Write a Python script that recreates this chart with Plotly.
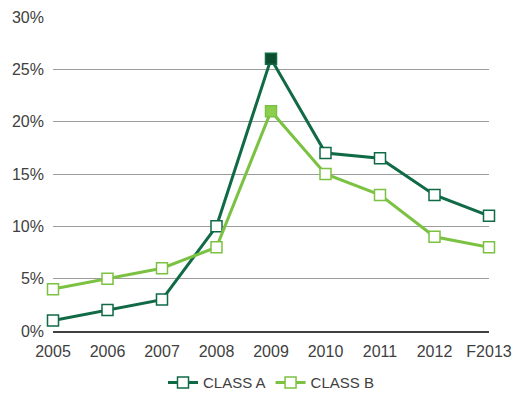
import plotly.graph_objects as go

years = ["2005", "2006", "2007", "2008", "2009", "2010", "2011", "2012", "F2013"]
class_a = [1, 2, 3, 10, 26, 17, 16.5, 13, 11]
class_b = [4, 5, 6, 8, 21, 15, 13, 9, 8]
y_ticks = [0, 5, 10, 15, 20, 25, 30]
y_labels = ["0%", "5%", "10%", "15%", "20%", "25%", "30%"]

dark = "#0f6a45"
light = "#7cc242"
a_fill = ["white"] * len(years)
b_fill = ["white"] * len(years)
a_fill[4] = "#0b4d2e"
b_fill[4] = "#8ccf4c"

fig = go.Figure()
fig.add_trace(go.Scatter(
    x=years, y=class_a, name="CLASS A", mode="lines+markers",
    line=dict(color=dark, width=3),
    marker=dict(symbol="square", size=11, color=a_fill, line=dict(color=dark, width=1.5)),
    cliponaxis=False,
))
fig.add_trace(go.Scatter(
    x=years, y=class_b, name="CLASS B", mode="lines+markers",
    line=dict(color=light, width=3),
    marker=dict(symbol="square", size=11, color=b_fill, line=dict(color=light, width=1.5)),
    cliponaxis=False,
))
fig.add_annotation(x="2009", y=27.7, text="Crisis", showarrow=False, xshift=28,
                   font=dict(family="Lato", size=15, color="#555555"))

fig.update_layout(
    width=512, height=395,
    margin=dict(l=53, r=23, t=17, b=64, autoexpand=False),
    paper_bgcolor="white", plot_bgcolor="white",
    font=dict(family="Liberation Sans, Arial", size=15, color="#404040"),
    showlegend=True,
    legend=dict(orientation="h", x=0.5, xanchor="center", y=-0.165, yanchor="middle",
                font=dict(size=15, color="#404040"), itemwidth=30),
    xaxis=dict(type="category", range=[0, 8], showgrid=False, showline=True,
               linecolor="#404040", linewidth=1.5, ticks="", tickfont=dict(size=16),
               ticklabelstandoff=5, automargin=False),
    yaxis=dict(range=[0, 30], tickvals=y_ticks, ticktext=y_labels, showgrid=True,
               gridcolor="#9c9c9c", gridwidth=1, zeroline=False, showline=False,
               ticks="", ticklabelstandoff=8, tickfont=dict(size=16), automargin=False),
)
fig.write_html("out.html")
